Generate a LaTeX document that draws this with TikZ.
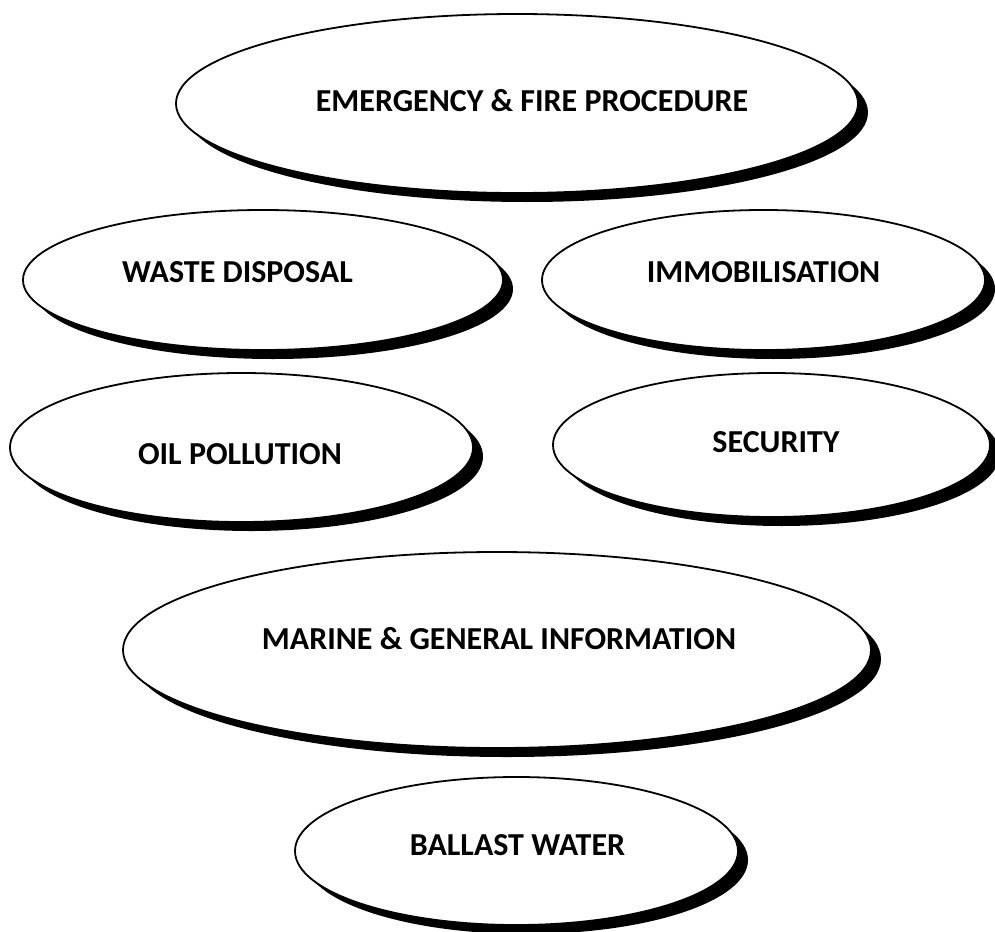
\documentclass[tikz,border=0pt]{standalone}
\usepackage{fontspec}
\setmainfont{Carlito}
\usetikzlibrary{shapes.geometric,shadows}
\begin{document}
\begin{tikzpicture}[x=1pt,y=-1pt,
  bub/.style={ellipse, draw=black, line width=1.8pt, fill=white, inner sep=0pt,
    drop shadow={shadow xshift=10pt, shadow yshift=-9pt, fill=black, opacity=1}},
  lab/.style={font=\fontsize{32}{38}\selectfont\bfseries, inner sep=0pt, anchor=center}]
\useasboundingbox (0,0) rectangle (995,931);
\clip (0,0) rectangle (995,931);
\node[bub, minimum width=682pt, minimum height=179pt] (e1) at (517,103.5) {};
\node[lab] (t1) at (532,101) {EMERGENCY \& FIRE PROCEDURE};
\node[bub, minimum width=480pt, minimum height=140pt] (e2) at (263,280) {};
\node[lab] (t2) at (237.5,272) {WASTE DISPOSAL};
\node[bub, minimum width=443pt, minimum height=140pt] (e3) at (763.5,280) {};
\node[lab] (t3) at (763.5,272) {IMMOBILISATION};
\node[bub, minimum width=463pt, minimum height=149pt] (e4) at (241.5,447.5) {};
\node[lab] (t4) at (240,454) {OIL POLLUTION};
\node[bub, minimum width=437pt, minimum height=144pt] (e5) at (771.5,445) {};
\node[lab] (t5) at (776,442.5) {SECURITY};
\node[bub, minimum width=748pt, minimum height=196pt] (e6) at (497,650) {};
\node[lab] (t6) at (499,639) {MARINE \& GENERAL INFORMATION};
\node[bub, minimum width=443pt, minimum height=148pt] (e7) at (516.5,851) {};
\node[lab] (t7) at (517.5,845) {BALLAST WATER};
\end{tikzpicture}
\end{document}
